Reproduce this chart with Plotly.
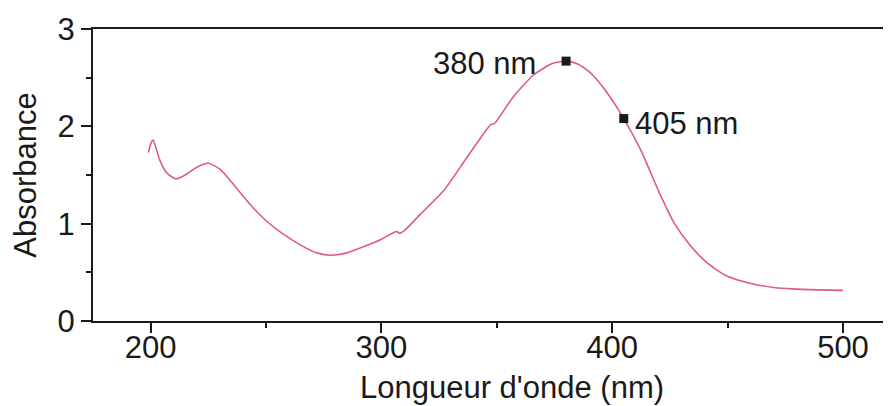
import plotly.graph_objects as go

wavelength = [199, 200, 201, 202, 204, 207, 211, 215, 220, 225, 230, 236, 243, 250, 257, 265,
              272, 278, 285, 293, 300, 306.5, 308, 310, 317, 327, 337, 346, 347.5, 349, 357,
              366, 374.5, 380, 385, 389, 391, 397, 405, 412.5, 420, 427, 434, 441, 449, 456,
              463, 470, 478, 489, 500]
absorbance = [1.73, 1.82, 1.86, 1.80, 1.65, 1.52, 1.46, 1.50, 1.58, 1.62, 1.56, 1.40, 1.20, 1.03,
              0.90, 0.78, 0.70, 0.675, 0.70, 0.77, 0.84, 0.92, 0.90, 0.93, 1.10, 1.34, 1.68, 1.98,
              2.02, 2.03, 2.30, 2.53, 2.65, 2.67, 2.64, 2.58, 2.54, 2.37, 2.08, 1.75, 1.34, 1.00,
              0.77, 0.60, 0.47, 0.41, 0.37, 0.345, 0.33, 0.32, 0.315]

marker_x = [380, 405]
marker_y = [2.67, 2.08]
marker_labels = ["380 nm", "405 nm"]

x_ticks = [200, 300, 400, 500]
y_ticks = [0, 1, 2, 3]
x_title = "Longueur d'onde (nm)"
y_title = "Absorbance"

FONT = "Liberation Sans, Arial, sans-serif"
INK = "#1a1a1a"
FS = 31

fig = go.Figure()
fig.add_trace(go.Scatter(x=wavelength, y=absorbance, mode="lines",
                         line=dict(color="#df5c7a", width=1.6, shape="spline", smoothing=0.6),
                         hoverinfo="x+y", showlegend=False))
fig.add_trace(go.Scatter(x=marker_x, y=marker_y, mode="markers",
                         marker=dict(symbol="square", size=9, color="#1a1a1a"),
                         showlegend=False))

fig.add_annotation(x=marker_x[0], y=marker_y[0], text=marker_labels[0], showarrow=False,
                   xanchor="right", yanchor="middle", xshift=-28, yshift=-2,
                   font=dict(family=FONT, size=FS, color=INK))
fig.add_annotation(x=marker_x[1], y=marker_y[1], text=marker_labels[1], showarrow=False,
                   xanchor="left", yanchor="middle", xshift=9, yshift=-5,
                   font=dict(family=FONT, size=FS, color=INK))

# x-axis title (placed slightly right of the plot centre, as in the original)
fig.add_annotation(xref="paper", yref="paper", x=0.5245, y=0, text=x_title, showarrow=False,
                   xanchor="center", yanchor="middle", yshift=-66,
                   font=dict(family=FONT, size=FS, color=INK))

# page body has an 8px margin, so the figure is drawn 8px in from the top-left corner
fig.update_layout(
    width=883, height=398,
    margin=dict(l=85, r=0, t=21, b=85),
    paper_bgcolor="white", plot_bgcolor="white",
    font=dict(family=FONT, size=FS, color=INK),
    xaxis=dict(range=[175, 520.8], tickvals=x_ticks, ticks="outside", ticklen=10, tickwidth=2,
               tickcolor=INK, showline=True, linewidth=2, linecolor=INK, mirror=True,
               showgrid=False, zeroline=False, automargin=False, ticklabelstandoff=-12,
               minor=dict(dtick=50, tick0=0, ticks="outside", ticklen=5, tickwidth=2, tickcolor=INK),
               tickfont=dict(family=FONT, size=FS, color=INK)),
    yaxis=dict(range=[0, 3], tickvals=y_ticks, ticks="outside", ticklen=10, tickwidth=2,
               tickcolor=INK, showline=True, linewidth=2, linecolor=INK, mirror=False,
               showgrid=False, zeroline=False, automargin=False,
               minor=dict(dtick=0.5, tick0=0, ticks="outside", ticklen=5, tickwidth=2, tickcolor=INK),
               title=dict(text=y_title, standoff=14,
                          font=dict(family=FONT, size=FS, color=INK)),
               tickfont=dict(family=FONT, size=FS, color=INK)),
)

fig.write_html("out.html")
